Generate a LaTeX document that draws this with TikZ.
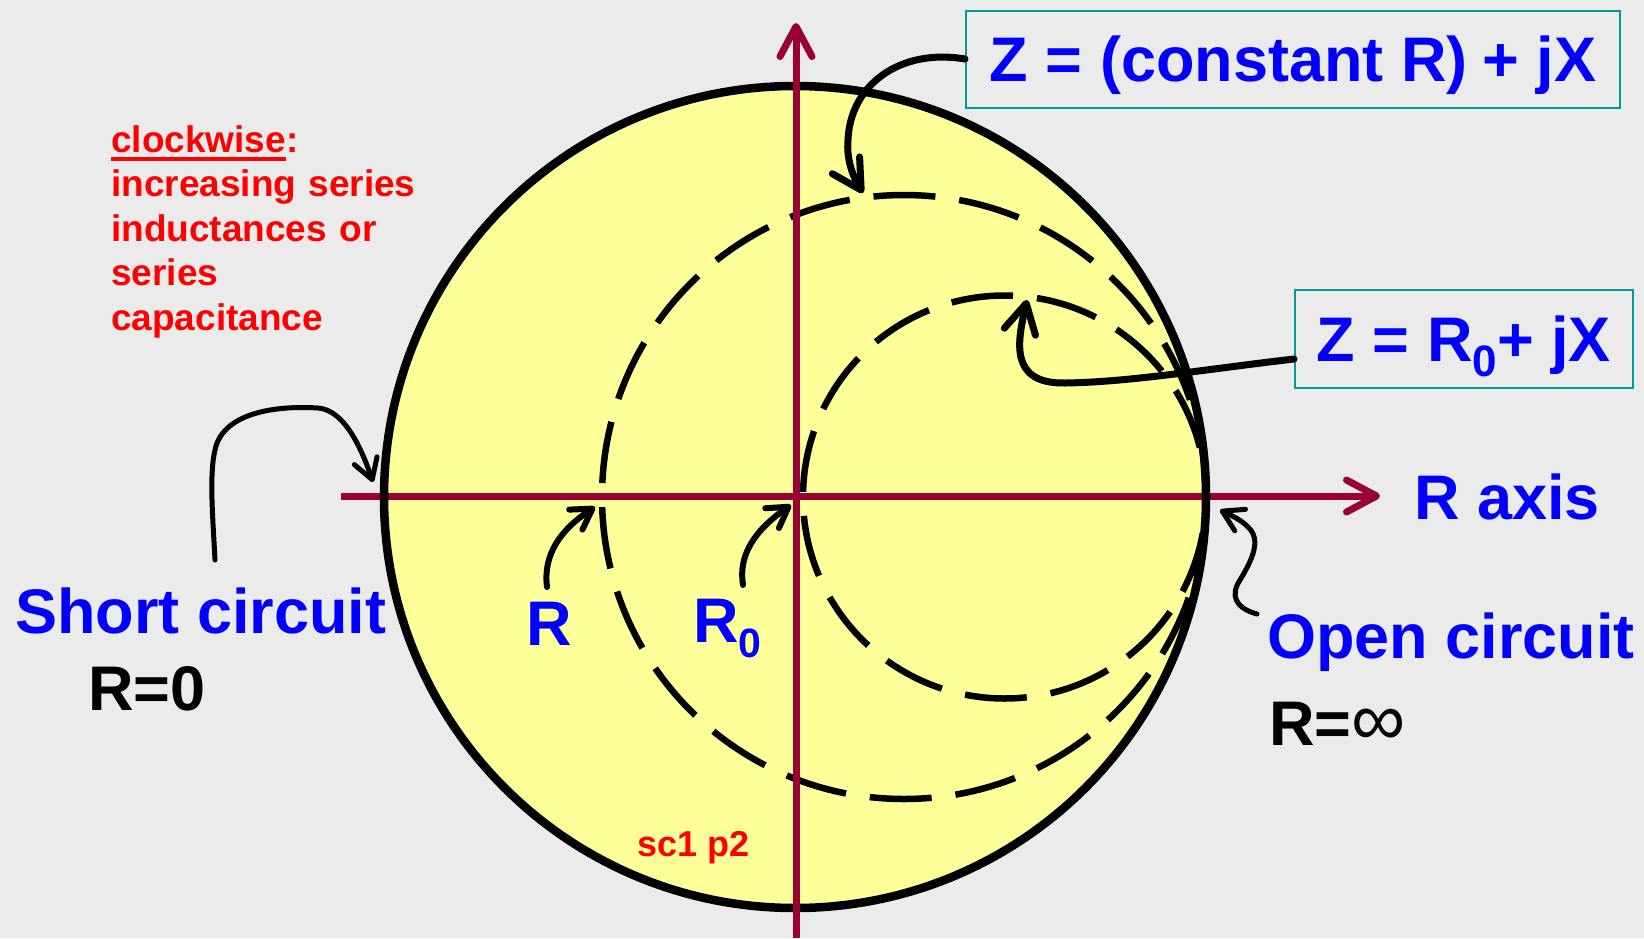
\documentclass[tikz,border=0pt]{standalone}
\usepackage{fontspec}
\setmainfont{Liberation Sans}
\usetikzlibrary{arrows.meta}
\definecolor{bg}{HTML}{EBEBEB}
\definecolor{disk}{HTML}{FFFF99}
\definecolor{axiscol}{HTML}{990033}
\definecolor{zblue}{HTML}{0000FF}
\definecolor{zred}{HTML}{FF0000}
\definecolor{boxline}{HTML}{009999}
\newcommand\redul[1]{\sbox0{#1}\rlap{\rule[-9pt]{\wd0}{4pt}}\usebox0}
\begin{document}
\begin{tikzpicture}[x=1pt,y=-1pt,
  axisline/.style={draw=axiscol, line width=7pt, -{Straight Barb[length=30pt,width=32pt,round]}},
  dashcirc/.style={line width=6.5pt, dash pattern=on 62pt off 24pt},
  bigconn/.style={line width=7pt, line cap=round, -{Straight Barb[length=29pt,width=32pt,round]}},
  midconn/.style={line width=6pt, line cap=round, -{Straight Barb[length=20pt,width=24pt,round]}},
  thinconn/.style={line width=5pt, line cap=round, -{Straight Barb[length=20pt,width=24pt,round]}},
  big/.style={anchor=base west, inner sep=0pt, font=\bfseries\fontsize{63}{63}\selectfont},
  zbox/.style={draw=boxline, line width=2pt, inner sep=0pt, text=zblue,
    font=\bfseries\fontsize{63}{63}\selectfont, text height=45pt, text depth=0pt}
]
\useasboundingbox (0,0) rectangle (1644,938);
\fill[bg] (0,0) rectangle (1644,938);

\coordinate (O) at (795,497);
\fill[disk] (O) circle[radius=411pt];

\coordinate (hx0) at (341,496);
\coordinate (hx1) at (1380,496);
\draw[axisline] (hx0) -- (hx1);

\draw[line width=8.5pt] (O) circle[radius=411pt];
\coordinate (Rc) at (904,497);
\coordinate (R0c) at (1004.5,497);
\draw[dashcirc, dash phase=73pt] (Rc) circle[radius=302pt];
\draw[dashcirc, dash phase=36pt] (R0c) circle[radius=201.5pt];

\coordinate (vy0) at (796,938);
\coordinate (vy1) at (796,23);
\draw[axisline] (vy0) -- (vy1);

% boxes and labels
\node[zbox, minimum width=654pt, minimum height=97pt] (b1) at (1293,59) {Z = (constant R)\kern-3pt{} + jX};
\node[zbox, minimum width=338pt, minimum height=98pt] (b2) at (1464,339) {Z = R\raisebox{-15pt}{\fontsize{44}{44}\selectfont 0}+ jX};

\node[big, text=zblue] (shortc) at (15,633) {Short circuit};
\node[big] (r0val) at (88,710) {R=0};
\node[big, text=zblue] (openc) at (1267,658) {Open circuit};
\node[big] (rinf) at (1269,745) {R=\mdseries\fontsize{76}{76}\selectfont ∞};
\node[big, text=zblue] (raxis) at (1414,519) {R axis};
\node[big, text=zblue] (rlab) at (526,645) {R};
\node[big, text=zblue] (r0lab) at (693,642) {R\raisebox{-15pt}{\fontsize{41}{41}\selectfont 0}};

\node[anchor=base west, inner sep=0pt, text width=330pt, align=left, text=zred,
  font=\bfseries\fontsize{37}{44.5}\selectfont] (note) at (111,152)
  {\redul{clockwise}:\\increasing series\\inductances or\\series\\capacitance};
\node[anchor=base west, inner sep=0pt, text=zred, font=\bfseries\fontsize{36}{36}\selectfont] (sc) at (637,856) {sc1 p2};

% connectors
\coordinate (t1) at (863,193);
\draw[bigconn] (b1.west) .. controls (900,48) and (850,85) .. (848,140) .. controls (846,162) and (855,180) .. (t1);

\coordinate (t2) at (1027,300);
\draw[bigconn] ([yshift=-20pt]b2.west) .. controls (1200,370) and (1130,382) .. (1065,383) .. controls (1008,384) and (1018,340) .. (t2);

\coordinate (s3) at (215,560);
\coordinate (t3) at (373,482);
\draw[thinconn] (s3) .. controls (213,520) and (209,475) .. (215,450) .. controls (222,415) and (270,405) .. (318,408) .. controls (345,410) and (362,450) .. (t3);

\coordinate (s4) at (1257,614);
\coordinate (t4) at (1220,510);
\draw[thinconn] (s4) .. controls (1235,608) and (1230,595) .. (1240,580) .. controls (1252,560) and (1262,540) .. (1248,527) .. controls (1240,519) and (1232,516) .. (t4);

\coordinate (s5) at (547,587);
\coordinate (t5) at (595,507);
\draw[midconn] (s5) .. controls (543,555) and (560,530) .. (t5);

\coordinate (s6) at (743,585);
\coordinate (t6) at (791,505);
\draw[midconn] (s6) .. controls (738,555) and (755,530) .. (t6);
\end{tikzpicture}
\end{document}
